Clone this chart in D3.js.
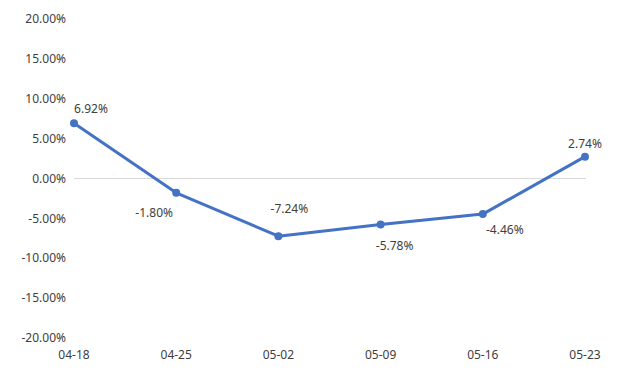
<!DOCTYPE html>
<html>
<head>
<meta charset="utf-8">
<script src="https://cdn.jsdelivr.net/npm/d3@7"></script>
<style>
  body { margin: 0; background: #fff; }
  text { font-family: "Noto Sans", "DejaVu Sans", sans-serif; font-size: 12px; fill: #404040; }
</style>
</head>
<body>
<script>
// chart data
const dates = ["04-18", "04-25", "05-02", "05-09", "05-16", "05-23"];
const values = [6.92, -1.80, -7.24, -5.78, -4.46, 2.74];
const yTicks = [20, 15, 10, 5, 0, -5, -10, -15, -20];

// label placement (dx, dy relative to the point)
const labelOffsets = [[17, -15], [-22, 20], [11, -27], [14, 21], [22, 16], [0, -13]];

let width = 628,
    height = 376;

let x = d3.scalePoint()
    .domain(dates)
    .range([74, 585]);

let y = d3.scaleLinear()
    .domain([-20, 20])
    .range([338, 19]);

let svg = d3.select("body").append("svg")
    .attr("width", width)
    .attr("height", height);

// y labels
svg.append("g").selectAll("text")
    .data(yTicks)
    .enter().append("text")
    .attr("x", 66)
    .attr("y", d => y(d))
    .attr("dy", "0.35em")
    .attr("text-anchor", "end")
    .text(d => d.toFixed(2) + "%");

// zero line
svg.append("line")
    .attr("x1", 74).attr("x2", 586)
    .attr("y1", y(0)).attr("y2", y(0))
    .attr("stroke", "#d9d9d9")
    .attr("stroke-width", 1);

// x labels
svg.append("g").selectAll("text")
    .data(dates)
    .enter().append("text")
    .attr("x", d => x(d))
    .attr("y", 355)
    .attr("dy", "0.35em")
    .attr("text-anchor", "middle")
    .text(d => d);

let line = d3.line()
    .x((d, i) => x(dates[i]))
    .y(d => y(d));

svg.append("path")
    .datum(values)
    .attr("fill", "none")
    .attr("stroke", "#4472c4")
    .attr("stroke-width", 3)
    .attr("stroke-linejoin", "round")
    .attr("d", line);

svg.append("g").selectAll("circle")
    .data(values)
    .enter().append("circle")
    .attr("cx", (d, i) => x(dates[i]))
    .attr("cy", d => y(d))
    .attr("r", 4)
    .attr("fill", "#4472c4");

svg.append("g").selectAll("text")
    .data(values)
    .enter().append("text")
    .attr("x", (d, i) => x(dates[i]) + labelOffsets[i][0])
    .attr("y", (d, i) => y(d) + labelOffsets[i][1])
    .attr("dy", "0.35em")
    .attr("text-anchor", "middle")
    .text(d => d.toFixed(2) + "%");
</script>
</body>
</html>
